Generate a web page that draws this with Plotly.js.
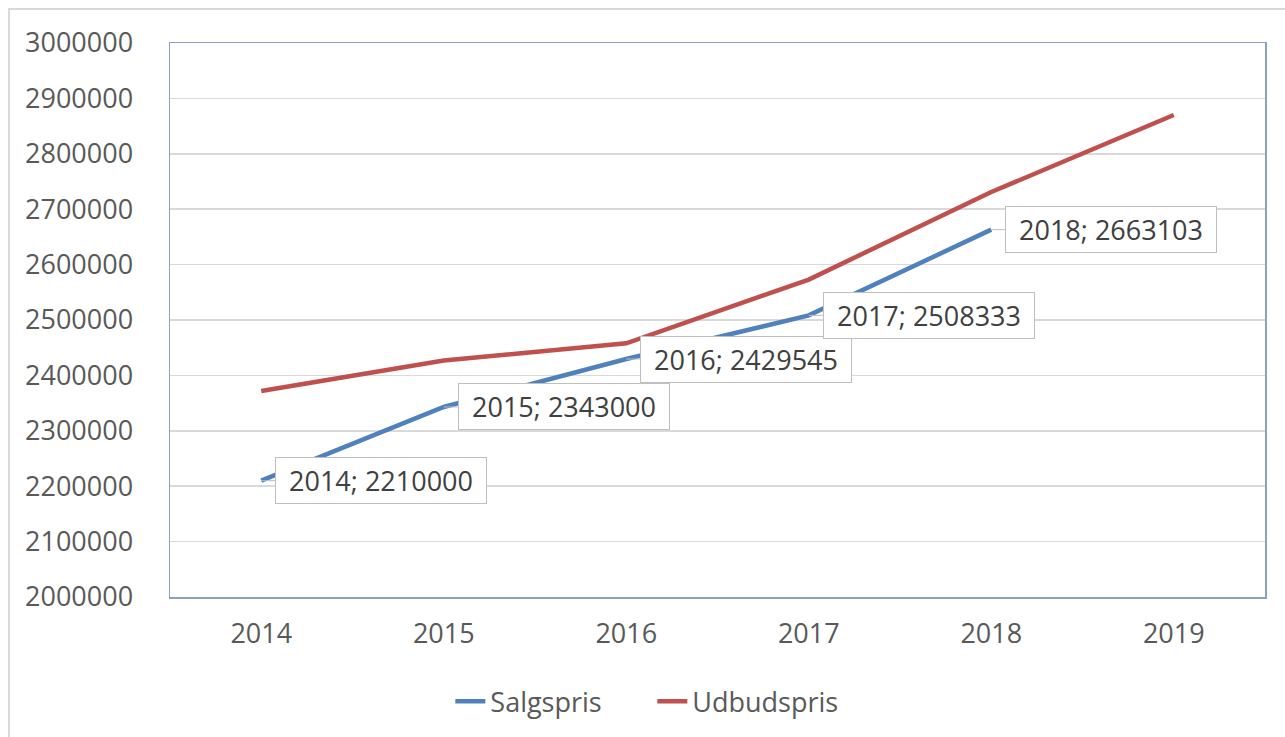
<!DOCTYPE html>
<html>
<head>
<meta charset="utf-8">
<script src="https://cdn.plot.ly/plotly-3.0.1.min.js"></script>
<style>
  html, body { margin: 0; padding: 0; background: #ffffff; }
  #chart { width: 1285px; height: 737px; }
</style>
</head>
<body>
<div id="chart"></div>
<script>
// ---- Data ----
const years = ["2014", "2015", "2016", "2017", "2018", "2019"];
const salgsprisYears = ["2014", "2015", "2016", "2017", "2018"];
const salgspris = [2210000, 2343000, 2429545, 2508333, 2663103];
const udbudspris = [2372000, 2427000, 2458000, 2573000, 2731000, 2870000];
const seriesNames = ["Salgspris", "Udbudspris"];

const FONT = "'Open Sans', 'Noto Sans', sans-serif";
const TEXT = "#595959";

const traces = [
  {
    x: salgsprisYears, y: salgspris, name: seriesNames[0], type: "scatter", mode: "lines",
    line: { color: "#4F81BD", width: 4.5 }
  },
  {
    x: years, y: udbudspris, name: seriesNames[1], type: "scatter", mode: "lines",
    line: { color: "#C0504D", width: 4.5 }
  }
];

const annotations = salgsprisYears.map((yr, i) => ({
  x: years.indexOf(yr), y: salgspris[i], xref: "x", yref: "y",
  text: yr + "; " + salgspris[i],
  showarrow: true, arrowhead: 0, arrowwidth: 1, arrowcolor: "#BFBFBF",
  ax: 120, ay: 0, axref: "pixel", ayref: "pixel", standoff: 0,
  bgcolor: "#ffffff", bordercolor: "#BFBFBF", borderwidth: 1, borderpad: 5,
  width: 200, height: 35,
  font: { family: FONT, size: 27, color: "#404040" }
}));

const layout = {
  width: 1285, height: 737,
  margin: { l: 170, r: 20, t: 43, b: 139 },
  paper_bgcolor: "#ffffff", plot_bgcolor: "#ffffff",
  font: { family: FONT, size: 27, color: TEXT },
  showlegend: true,
  legend: {
    orientation: "h", x: 0.256, xanchor: "left", y: -0.187, yanchor: "middle",
    font: { family: FONT, size: 27, color: TEXT }, entrywidth: 157, entrywidthmode: "pixels"
  },
  xaxis: {
    type: "category", categoryarray: years, range: [-0.5, 5.5],
    showgrid: false, zeroline: false, showline: true, mirror: true,
    linecolor: "#8EA0BE", linewidth: 1.5, ticks: "", ticklabelstandoff: 12,
    tickfont: { family: FONT, size: 27, color: TEXT }
  },
  yaxis: {
    range: [2000000, 3000000], dtick: 100000, tick0: 2000000, tickformat: "d",
    showgrid: true, gridcolor: "#D9D9D9", gridwidth: 1.5, zeroline: false,
    showline: true, mirror: true, linecolor: "#8EA0BE", linewidth: 1.5, ticks: "",
    ticklabelstandoff: 30,
    tickfont: { family: FONT, size: 27, color: TEXT }
  },
  annotations: annotations,
  shapes: [{
    type: "rect", xref: "paper", yref: "paper",
    x0: -0.147, x1: 1.03, y0: -0.28, y1: 1.0613,
    line: { color: "#D9D9D9", width: 2 }, fillcolor: "rgba(0,0,0,0)", layer: "below"
  }]
};

Plotly.newPlot("chart", traces, layout, { displayModeBar: false, staticPlot: true });
</script>
</body>
</html>
